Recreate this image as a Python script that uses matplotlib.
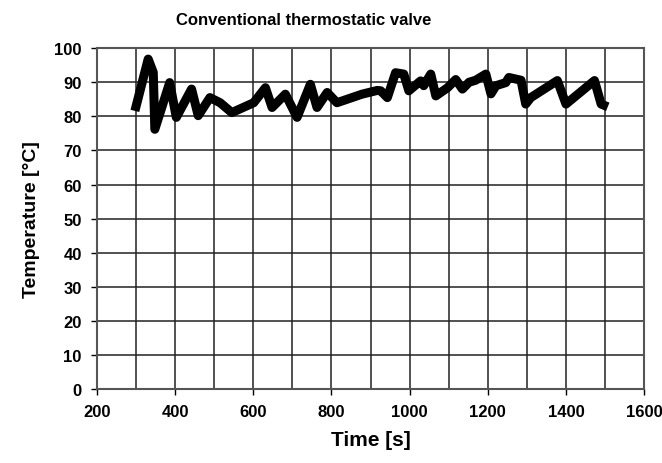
import matplotlib
matplotlib.use("Agg")
import matplotlib.pyplot as plt

# time [s] and temperature [°C]
time_s = [297, 331, 344, 348, 386, 403, 442, 459, 489, 515, 545, 601, 631, 648,
          682, 712, 746, 763, 789, 814, 878, 917, 926, 943, 964, 985, 998,
          1028, 1036, 1054, 1067, 1097, 1118, 1135, 1152, 1169, 1195, 1208,
          1221, 1246, 1254, 1285, 1297, 1310, 1378, 1400, 1473, 1490, 1507]
temp_c = [81.6, 96.8, 92.9, 76.2, 89.9, 79.7, 88.0, 80.2, 85.5, 84.0, 81.1,
          84.0, 88.4, 82.6, 86.5, 79.7, 89.4, 82.6, 87.0, 84.0, 86.5, 87.6,
          87.5, 85.5, 92.8, 92.4, 87.5, 90.4, 89.0, 92.4, 86.0, 88.4, 90.8,
          88.0, 90.0, 90.6, 92.4, 86.6, 89.0, 89.9, 91.4, 90.6, 83.6, 85.5,
          90.5, 83.6, 90.5, 83.6, 82.8]

x_ticks = list(range(200, 1601, 200))
y_ticks = list(range(0, 101, 10))

plt.rcParams["font.family"] = ["Liberation Sans", "DejaVu Sans"]

fig = plt.figure(figsize=(6.62, 4.64), dpi=100)
ax = fig.add_axes([0.1465, 0.1595, 0.8265, 0.7345])

ax.plot(time_s, temp_c, color="black", lw=6.5, solid_joinstyle="round",
        solid_capstyle="butt")

ax.set_xlim(200, 1600)
ax.set_ylim(0, 100)
ax.set_xticks(x_ticks)
ax.set_yticks(y_ticks)
ax.set_xticks(range(300, 1600, 200), minor=True)
ax.grid(True, which="both", color="#222222", lw=1.1)
ax.tick_params(which="minor", length=0)
ax.tick_params(which="major", direction="out", length=4, width=1, pad=7)
for lbl in ax.get_xticklabels() + ax.get_yticklabels():
    lbl.set_fontweight("bold")
    lbl.set_fontsize(12)
for s in ax.spines.values():
    s.set_color("#555555")
    s.set_linewidth(1.5)

ax.set_xlabel("Time [s]", fontsize=15, fontweight="bold", labelpad=8)
ax.set_ylabel("Temperature [°C]", fontsize=14, fontweight="bold", labelpad=10)
fig.text(0.458, 0.955, "Conventional thermostatic valve", ha="center", va="center",
         fontsize=12, fontweight="bold")

fig.savefig("out.png", dpi=100)
